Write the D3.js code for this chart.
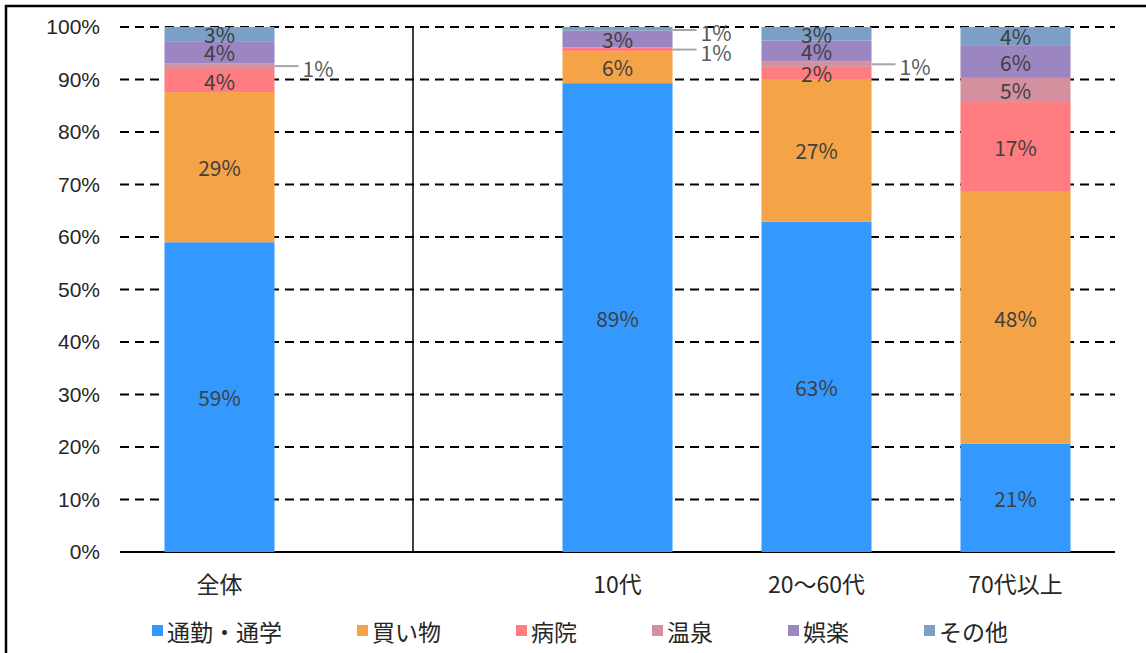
<!DOCTYPE html>
<html><head><meta charset="utf-8">
<script src="https://cdn.jsdelivr.net/npm/d3@7"></script>
<style>
body{margin:0;background:#fff;}
svg{display:block;font-family:"Noto Sans CJK JP","Noto Sans",sans-serif;}
</style></head>
<body><svg id="c" width="1146" height="653"></svg>
<script>
// ---- data ----
const categories = ["全体", "", "10代", "20〜60代", "70代以上"];
const seriesNames = ["通勤・通学", "買い物", "病院", "温泉", "娯楽", "その他"];
const seriesColors = ["#3399FF", "#F4A446", "#FF7C80", "#D4909F", "#9C86C2", "#7B9FC6"];
const commute   = [59.0, null, 89.3, 62.9, 20.6];
const shopping  = [28.6, null, 6.0, 27.2, 48.0];
const hospital  = [4.4, null, 0.8, 2.3, 17.1];
const onsen     = [1.1, null, 0, 1.0, 4.6];
const leisure   = [4.2, null, 3.2, 4.0, 6.1];
const other     = [2.7, null, 0.7, 2.6, 3.6];
const yTicks = [0, 10, 20, 30, 40, 50, 60, 70, 80, 90, 100];

const seriesValues = [commute, shopping, hospital, onsen, leisure, other];

(function(){
const svg = d3.select("#c");
const W = 1146, H = 653;
const pLeft = 120, pRight = 1115, pTop = 27, pBottom = 552;

// frame
svg.append("path").attr("d", `M6,${H+2} L6,6 L${W+2},6`).attr("fill","none").attr("stroke","#000").attr("stroke-width",2.5);

const x = d3.scaleBand().domain(categories.map((c,i)=>i)).range([pLeft,pRight]).paddingInner(0.447).paddingOuter(0.2235);
const y = d3.scaleLinear().domain([0,100]).range([pBottom, pTop]);

// grid
svg.append("g").selectAll("line").data(yTicks.filter(t=>t>0)).join("line")
  .attr("x1", pLeft).attr("x2", pRight).attr("y1", d=>y(d)).attr("y2", d=>y(d))
  .attr("stroke","#000").attr("stroke-width",2.2).attr("stroke-dasharray","9,6");

// y axis labels
const yAxis = d3.axisLeft(y).tickValues(yTicks).tickFormat(d=>d+"%").tickSize(0).tickPadding(0);
const ya = svg.append("g").attr("transform",`translate(100,0)`).call(yAxis);
ya.select(".domain").remove();
ya.selectAll("text").attr("font-size",21).attr("fill","#262626").attr("font-family","inherit");

// baseline
svg.append("line").attr("x1",pLeft).attr("x2",pRight).attr("y1",pBottom).attr("y2",pBottom).attr("stroke","#000").attr("stroke-width",2.2);

// separator
svg.append("line").attr("x1",413).attr("x2",413).attr("y1",pTop).attr("y2",pBottom).attr("stroke","#000").attr("stroke-width",1.5);

// stacks
const rows = categories.map((c,i)=>{const o={i}; seriesNames.forEach((s,k)=>o[s]=seriesValues[k][i]||0); o.empty = commute[i]===null; return o;}).filter(r=>!r.empty);
const stack = d3.stack().keys(seriesNames)(rows);

const gBars = svg.append("g");
stack.forEach((layer,k)=>{
  gBars.append("g").attr("fill",seriesColors[k]).selectAll("rect").data(layer).join("rect")
    .attr("x", d=>x(d.data.i)).attr("width", x.bandwidth())
    .attr("y", d=>y(d[1])).attr("height", d=>Math.max(0,y(d[0])-y(d[1])));
});

// labels
const gLab = svg.append("g").attr("font-size",21).attr("fill","#404040");
stack.forEach((layer,k)=>{
  layer.forEach(d=>{
    const v = d[1]-d[0];
    if (v <= 0) return;
    const cx = x(d.data.i) + x.bandwidth()/2;
    const cy = (y(d[0])+y(d[1]))/2;
    const txt = Math.round(v)+"%";
    if (v >= 1.9) {
      gLab.append("text").attr("x",cx).attr("y",cy).attr("text-anchor","middle").attr("dominant-baseline","central").text(txt);
    } else {
      const xr = x(d.data.i)+x.bandwidth();
      const ly = Math.max(cy, pTop+3);
      gLab.append("line").attr("x1",xr).attr("x2",xr+24).attr("y1",ly).attr("y2",ly).attr("stroke","#A6A6A6").attr("stroke-width",2);
      gLab.append("text").attr("x",xr+28).attr("y",ly+2).attr("dominant-baseline","central").attr("fill","#595959").text(txt);
    }
  });
});

// x labels
svg.append("g").selectAll("text").data(categories.map((c,i)=>({c,i})).filter(d=>d.c)).join("text")
  .attr("x", d=>x(d.i)+x.bandwidth()/2).attr("y", 583).attr("text-anchor","middle").attr("dominant-baseline","central")
  .attr("font-size",23).attr("fill","#262626").text(d=>d.c);

// legend
const lg = svg.append("g").attr("font-size",23).attr("fill","#262626");
let lx = 152;
seriesNames.forEach((s,k)=>{
  lg.append("rect").attr("x",lx).attr("y",625).attr("width",11).attr("height",11).attr("fill",seriesColors[k]);
  const t = lg.append("text").attr("x",lx+15).attr("y",631).attr("dominant-baseline","central").text(s);
  const w = t.node().getComputedTextLength();
  lx += 15 + w + 75;
});
})();
</script></body></html>
